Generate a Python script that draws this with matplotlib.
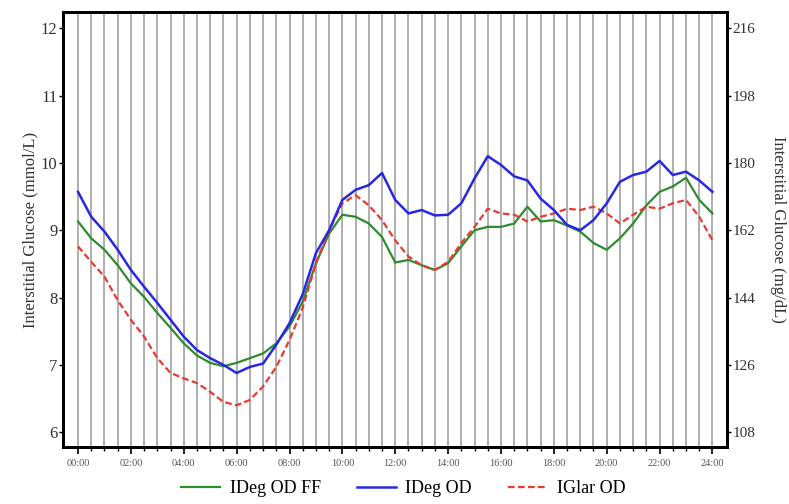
import matplotlib.pyplot as plt
import numpy as np

# half-hourly time points, 00:00 .. 24:00
hours = np.arange(0, 24.5, 0.5)

ideg_od_ff = [9.13, 8.88, 8.71, 8.48, 8.21, 8.01, 7.77, 7.55, 7.32, 7.14,
              7.03, 6.98, 7.03, 7.10, 7.17, 7.32, 7.57, 7.94, 8.51, 8.95,
              9.23, 9.20, 9.10, 8.90, 8.52, 8.56, 8.48, 8.41, 8.51, 8.76,
              9.00, 9.05, 9.05, 9.10, 9.35, 9.13, 9.15, 9.07, 8.98, 8.81,
              8.71, 8.88, 9.10, 9.37, 9.57, 9.65, 9.78, 9.45, 9.25]

ideg_od = [9.57, 9.20, 8.98, 8.71, 8.41, 8.16, 7.92, 7.67, 7.42, 7.22,
           7.10, 7.00, 6.88, 6.97, 7.02, 7.30, 7.62, 8.05, 8.66, 9.00,
           9.45, 9.60, 9.67, 9.85, 9.45, 9.25, 9.30, 9.22, 9.23, 9.40,
           9.77, 10.10, 9.97, 9.80, 9.74, 9.47, 9.30, 9.08, 9.00, 9.15,
           9.40, 9.72, 9.82, 9.87, 10.03, 9.82, 9.87, 9.74, 9.57]

iglar_od = [8.76, 8.53, 8.31, 7.96, 7.67, 7.42, 7.10, 6.88, 6.80, 6.73,
            6.60, 6.45, 6.40, 6.48, 6.68, 6.97, 7.37, 7.85, 8.51, 9.00,
            9.40, 9.52, 9.37, 9.15, 8.85, 8.61, 8.48, 8.41, 8.53, 8.81,
            9.05, 9.32, 9.25, 9.23, 9.13, 9.20, 9.25, 9.32, 9.30, 9.35,
            9.25, 9.10, 9.23, 9.35, 9.32, 9.40, 9.45, 9.20, 8.85]

xtick_hours = np.arange(0, 25, 2)
xtick_labels = ["%02d:00" % h for h in xtick_hours]
mmol_ticks = np.arange(6, 13, 1)
mgdl_ticks = mmol_ticks * 18

plt.rcParams['font.family'] = ['Liberation Serif', 'DejaVu Serif']

fig = plt.figure(figsize=(7.89, 5.04), dpi=100)
ax = fig.add_axes([0.0798, 0.113, 0.8416, 0.863])

# vertical half-hour grid
for h in hours:
    ax.axvline(h, color='#a8a8a8', lw=1.3, zorder=1)

ax.plot(hours, ideg_od_ff, color='#2e8b2e', lw=1.6, zorder=3, label='IDeg OD FF')
ax.plot(hours, ideg_od, color='#2828e0', lw=1.8, zorder=4, label='IDeg OD')
ax.plot(hours, iglar_od, color='#e83a32', lw=1.6, ls=(0, (3, 1.5)), zorder=3, label='IGlar OD')

ax.set_xlim(-0.57, 24.55)
ax.set_ylim(5.78, 12.24)
ax.set_xticks(xtick_hours)
ax.set_xticklabels(xtick_labels, fontsize=7.5, color='#555555')
ax.set_xticks(hours, minor=True)
ax.tick_params(axis='x', which='major', length=5, width=1.2, direction='out')
ax.tick_params(axis='x', which='minor', length=3, width=1, direction='out')
ax.set_yticks(mmol_ticks)
ax.set_yticklabels([str(v) for v in mmol_ticks], fontsize=12, color='#333333')
ax.tick_params(axis='y', length=3, width=1, direction='out', pad=1)
ax.set_ylabel('Interstitial Glucose (mmol/L)', fontsize=12, color='#333333', labelpad=2)

for s in ax.spines.values():
    s.set_linewidth(2)
    s.set_color('black')

ax2 = ax.twinx()
ax2.set_ylim(5.78 * 18, 12.24 * 18)
ax2.set_yticks(mgdl_ticks)
ax2.set_yticklabels([str(v) for v in mgdl_ticks], fontsize=11, color='#333333')
ax2.tick_params(axis='y', length=3, width=1, direction='out', pad=1)
ax2.set_ylabel('Interstitial Glucose (mg/dL)', fontsize=12, color='#333333',
               rotation=270, labelpad=22)
for s in ax2.spines.values():
    s.set_linewidth(2)

handles, labels = ax.get_legend_handles_labels()
fig.legend(handles, labels, loc='center', bbox_to_anchor=(0.511, 0.03), ncol=3,
           frameon=False, fontsize=13, handlelength=2.2, columnspacing=2.0,
           handletextpad=0.5)

fig.savefig('out.png', dpi=100)
